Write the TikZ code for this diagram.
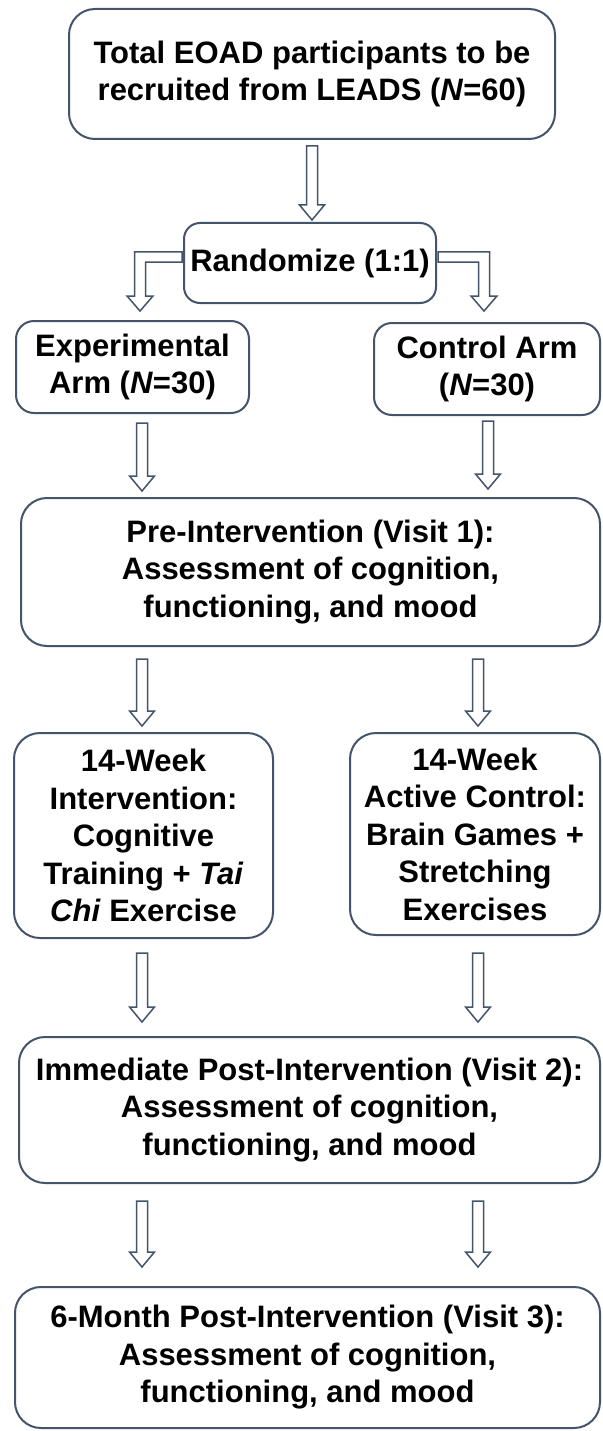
\documentclass[tikz,border=0pt]{standalone}
\usepackage{fontspec}
\setmainfont{Liberation Sans}
\usetikzlibrary{calc}
\definecolor{slate}{RGB}{68,84,106}
\tikzset{
  box/.style={draw=slate, line width=2pt, rounded corners=22pt, fill=white,
    align=center, inner sep=0pt, text=black,
    font=\fontsize{31}{37.5}\selectfont\bfseries},
  harrowst/.style={draw=slate, line width=1.5pt, fill=white, line join=miter},
}
% vertical hollow arrow: start point (top of shaft), target point (tip)
\newcommand\dnarrow[2]{\draw[harrowst] let \p1=(#1), \p2=(#2) in
  (\x1-5.5pt,\y1) -- (\x1+5.5pt,\y1) -- (\x1+5.5pt,\y2+15pt) -- (\x1+12.5pt,\y2+15pt)
  -- (\x1,\y2) -- (\x1-12.5pt,\y2+15pt) -- (\x1-5.5pt,\y2+15pt) -- cycle;}
% bent hollow arrow going left then down
\newcommand\bentleft[2]{\draw[harrowst] let \p1=(#1), \p2=(#2) in
  (\x1,\y1+5pt) -- (\x2-5.5pt,\y1+5pt) -- (\x2-5.5pt,\y2+15pt) -- (\x2-13pt,\y2+15pt)
  -- (\x2,\y2) -- (\x2+13pt,\y2+15pt) -- (\x2+5.5pt,\y2+15pt) -- (\x2+5.5pt,\y1-5pt)
  -- (\x1,\y1-5pt) -- cycle;}
% bent hollow arrow going right then down
\newcommand\bentright[2]{\draw[harrowst] let \p1=(#1), \p2=(#2) in
  (\x1,\y1+5pt) -- (\x2+5.5pt,\y1+5pt) -- (\x2+5.5pt,\y2+15pt) -- (\x2+13pt,\y2+15pt)
  -- (\x2,\y2) -- (\x2-13pt,\y2+15pt) -- (\x2-5.5pt,\y2+15pt) -- (\x2-5.5pt,\y1-5pt)
  -- (\x1,\y1-5pt) -- cycle;}
\begin{document}
\begin{tikzpicture}[x=1pt,y=-1pt]
\fill[white] (0,0) rectangle (602,1431);
\useasboundingbox (0,0) rectangle (602,1431);

\node[box, minimum width=486pt, minimum height=130pt, rounded corners=26pt] (top) at (312,74)
  {Total EOAD participants to be\\recruited from LEADS (\textit{N}=60)};
\node[box, minimum width=252pt, minimum height=80pt, rounded corners=16pt] (rand) at (310,263)
  {Randomize (1:1)};
\node[box, minimum width=233pt, minimum height=92pt, rounded corners=18pt] (exp) at (132.5,367)
  {Experimental\\Arm (\textit{N}=30)};
\node[box, minimum width=226pt, minimum height=92pt, rounded corners=18pt] (ctrl) at (487,369)
  {Control Arm\\(\textit{N}=30)};
\node[box, minimum width=579pt, minimum height=148pt, rounded corners=26pt] (pre) at (310.5,572)
  {Pre-Intervention (Visit 1):\\Assessment of cognition,\\functioning, and mood};
\node[box, minimum width=259pt, minimum height=205pt, rounded corners=26pt] (int) at (143.5,835.5)
  {14-Week\\Intervention:\\Cognitive\\Training + \textit{Tai}\\\textit{Chi} Exercise};
\node[box, minimum width=250pt, minimum height=202pt, rounded corners=26pt] (act) at (475,834)
  {14-Week\\Active Control:\\Brain Games +\\Stretching\\Exercises};
\node[box, minimum width=581pt, minimum height=146pt, rounded corners=26pt] (imm) at (309.5,1110)
  {Immediate Post-Intervention (Visit 2):\\Assessment of cognition,\\functioning, and mood};
\node[box, minimum width=585pt, minimum height=141pt, rounded corners=26pt] (six) at (307.5,1357.5)
  {6-Month Post-Intervention (Visit 3):\\Assessment of cognition,\\functioning, and mood};

\dnarrow{[yshift=-6pt]top.south}{[yshift=2pt]rand.north}
\bentleft{[shift={(-1pt,6pt)}]rand.west}{[shift={(7.5pt,9pt)}]exp.north}
\bentright{[shift={(1pt,6pt)}]rand.east}{[shift={(-3pt,11pt)}]ctrl.north}
\dnarrow{[shift={(9.5pt,-9pt)}]exp.south}{[yshift=6pt]pre.north}
\dnarrow{[shift={(1pt,-5pt)}]ctrl.south}{[yshift=8pt]pre.north}
\dnarrow{$(pre.south -| int.north)+(-1.5pt,-12pt)$}{[yshift=6pt]int.north}
\dnarrow{$(pre.south -| act.north)+(3pt,-12pt)$}{[yshift=6pt]act.north}
\dnarrow{[shift={(-1.5pt,-14pt)}]int.south}{[yshift=14pt]imm.north}
\dnarrow{[shift={(3pt,-17pt)}]act.south}{[yshift=14pt]imm.north}
\dnarrow{$(imm.south -| int.south)+(-1.5pt,-17pt)$}{[yshift=19pt]six.north}
\dnarrow{$(imm.south -| act.south)+(3pt,-17pt)$}{[yshift=19pt]six.north}
\end{tikzpicture}
\end{document}
